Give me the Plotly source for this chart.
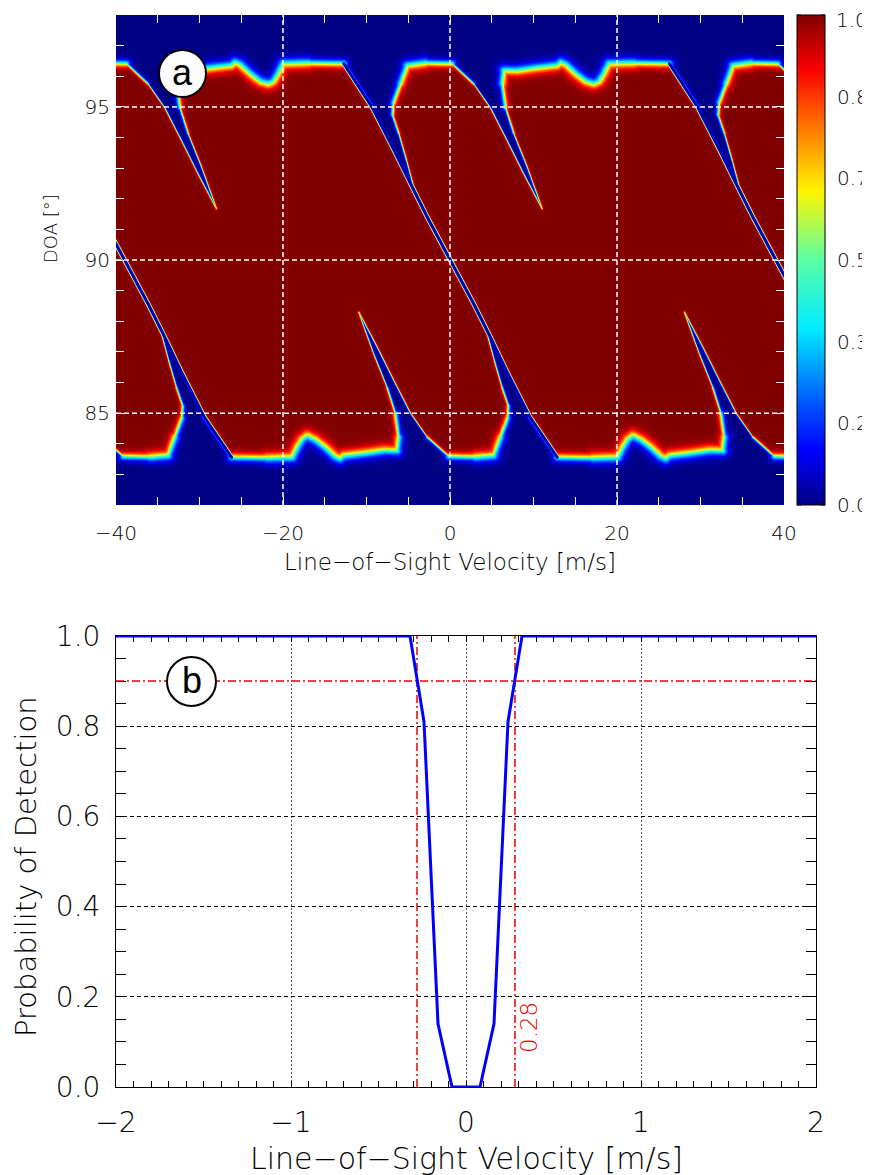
import numpy as np
import plotly.graph_objects as go

# ======================= DATA =======================
# ---- panel (b): probability of detection vs line-of-sight velocity ----
VEL_B = [-2.0, -0.32, -0.24, -0.16, -0.08, 0.0, 0.08, 0.16, 0.24, 0.32, 2.0]
PD_B = [1.0, 1.0, 0.81, 0.14, 0.0, 0.0, 0.0, 0.14, 0.81, 1.0, 1.0]
PD_THRESHOLD = 0.9
VEL_AT_THRESHOLD = 0.28
VEL_RANGE_B = [-2, 2]
PD_RANGE_B = [0, 1]
X_TICKS_B = [-2, -1, 0, 1, 2]
X_TICKTEXT_B = ["\u22122", "\u22121", "0", "1", "2"]
Y_TICKS_B = [0.0, 0.2, 0.4, 0.6, 0.8, 1.0]
Y_TICKTEXT_B = ["0.0", "0.2", "0.4", "0.6", "0.8", "1.0"]

# ---- panel (a): detection map (DOA vs velocity) ----
VEL_RANGE_A = [-40, 40]
DOA_RANGE_A = [82, 98]
X_TICKS_A = [-40, -20, 0, 20, 40]
X_TICKTEXT_A = ["\u221240", "\u221220", "0", "20", "40"]
Y_TICKS_A = [85, 90, 95]
Y_TICKTEXT_A = ["85", "90", "95"]
CB_TICKS = [0, 1 / 6, 2 / 6, 3 / 6, 4 / 6, 5 / 6, 1]
CB_TICKTEXT = ["0.0", "0.2", "0.3", "0.5", "0.7", "0.8", "1.0"]

# the map repeats along velocity; one period of its outline
PERIOD_SHIFTS = [-39.0, 0.0, 39.0]

# upper low-detection region (its lower edge, incl. the notches hanging from it)
UPPER_EDGE_V = [-12.78, -9.38, -6.79, -4.79, -3.60, -4.19, -5.27, -6.19, -6.95, -6.85,
                -6.00, -5.19, -3.00, 0.20, 2.79, 4.79, 6.79, 8.78, 10.98, 9.18,
                7.58, 6.59, 6.19, 6.39, 8.00, 10.00, 12.78, 13.20, 13.80, 15.00,
                16.20, 17.17, 17.80, 18.36, 18.96, 22.00]
UPPER_EDGE_DOA = [96.43, 95.00, 93.62, 92.51, 91.75, 92.18, 93.27, 94.14, 94.75, 95.15,
                  95.77, 96.37, 96.45, 96.43, 95.77, 94.99, 93.92, 92.83, 91.69, 93.05,
                  94.14, 94.99, 95.77, 96.21, 96.20, 96.28, 96.37, 96.47, 96.40, 96.10,
                  95.85, 95.77, 95.85, 96.10, 96.43, 96.45]
UPPER_EDGE_BLUR = [4.0, 1.2, 1.2, 1.2, 1.2, 1.2, 1.3, 1.6, 2.4, 3.5,
                   5.0, 6.5, 7.0, 3.0, 1.2, 1.2, 1.2, 1.2, 1.2, 1.2,
                   1.4, 2.5, 5.0, 6.5, 7.0, 7.0, 7.0, 7.0, 7.0, 7.0,
                   7.0, 7.0, 7.0, 7.0, 7.0, 7.0]

# lower low-detection region (its upper edge, incl. the notches rising from it)
LOWER_EDGE_V = [12.78, 9.48, 6.79, 4.79, 3.60, 4.19, 5.27, 6.19, 6.95, 6.85,
                6.00, 5.19, 3.00, -0.20, -2.79, -4.79, -6.79, -8.78, -10.98, -9.18,
                -7.58, -6.59, -6.19, -6.39, -8.00, -10.00, -12.78, -13.20, -13.80, -15.00,
                -16.20, -17.17, -17.80, -18.36, -18.96, -22.00]
LOWER_EDGE_DOA = [83.57, 84.90, 86.35, 87.49, 88.25, 87.82, 86.73, 85.86, 85.25, 84.85,
                  84.23, 83.63, 83.58, 83.60, 84.23, 85.01, 86.08, 87.17, 88.31, 86.95,
                  85.86, 85.01, 84.23, 83.79, 83.80, 83.72, 83.63, 83.53, 83.60, 83.90,
                  84.15, 84.28, 84.15, 83.90, 83.57, 83.55]
LOWER_EDGE_BLUR = [4.0, 1.2, 1.2, 1.2, 1.2, 1.2, 1.3, 1.6, 2.4, 3.5,
                   5.0, 6.5, 7.0, 3.0, 1.2, 1.2, 1.2, 1.2, 1.2, 1.2,
                   1.4, 2.5, 5.0, 6.5, 7.0, 7.0, 7.0, 7.0, 7.0, 7.0,
                   7.0, 7.0, 7.0, 7.0, 7.0, 7.0]

# thin blind line crossing the map
NOTCH_LINE_V = [-12.78, -9.38, -6.79, -4.79, -2.79, 0.0, 2.79, 4.79, 6.79, 9.48, 12.78]
NOTCH_LINE_DOA = [96.43, 95.00, 93.62, 92.51, 91.42, 90.00, 88.58, 87.49, 86.35, 84.90, 83.57]

# ======================= LAYOUT (pixels in the 870x1175 view) =======================
PAGE_OFF = 8                      # default page margin around the figure div
W, H = 870 - PAGE_OFF, 1175 - PAGE_OFF
A_L, A_R, A_T, A_B = 116, 784, 15, 505
B_L, B_R, B_T, B_B = 116, 816, 636, 1087
CB_L, CB_R = 797, 825
FONT = "DejaVu Sans"
LIGHT = 200


def px(x):
    return (x - PAGE_OFF) / W


def py(y):
    return 1 - (y - PAGE_OFF) / H


# ======================= FIELD FOR PANEL (a) =======================
PXV = (A_R - A_L) / (VEL_RANGE_A[1] - VEL_RANGE_A[0])
PXD = (A_B - A_T) / (DOA_RANGE_A[1] - DOA_RANGE_A[0])
vgrid = np.linspace(VEL_RANGE_A[0], VEL_RANGE_A[1], A_R - A_L + 1)
dgrid = np.linspace(DOA_RANGE_A[0], DOA_RANGE_A[1], A_B - A_T + 1)
GX, GY = np.meshgrid(vgrid * PXV, dgrid * PXD)


def polygon_field(vs, ds, blur):
    xs = np.asarray(vs) * PXV
    ys = np.asarray(ds) * PXD
    bl = np.asarray(blur)
    n = len(xs)
    inside = np.zeros(GX.shape, bool)
    dmin = np.full(GX.shape, np.inf)
    for i in range(n):
        j = (i + 1) % n
        x1, y1, x2, y2 = xs[i], ys[i], xs[j], ys[j]
        if y1 != y2:
            crosses = (y1 > GY) != (y2 > GY)
            xint = x1 + (GY - y1) * (x2 - x1) / (y2 - y1)
            inside ^= crosses & (GX < xint)
        dx, dy = x2 - x1, y2 - y1
        l2 = dx * dx + dy * dy
        if l2 == 0:
            continue
        t = np.clip(((GX - x1) * dx + (GY - y1) * dy) / l2, 0, 1)
        d = np.hypot(GX - x1 - t * dx, GY - y1 - t * dy)
        dmin = np.minimum(dmin, d / (0.5 * (bl[i] + bl[j])))
    sd = np.where(inside, -dmin, dmin)
    return 0.5 * (1 + np.tanh(1.2 * sd))


def line_field(vs, ds, halfw=1.9, soft=0.9):
    xs = np.asarray(vs) * PXV
    ys = np.asarray(ds) * PXD
    dmin = np.full(GX.shape, np.inf)
    for i in range(len(xs) - 1):
        x1, y1, x2, y2 = xs[i], ys[i], xs[i + 1], ys[i + 1]
        dx, dy = x2 - x1, y2 - y1
        l2 = dx * dx + dy * dy
        t = np.clip(((GX - x1) * dx + (GY - y1) * dy) / l2, 0, 1)
        d = np.hypot(GX - x1 - t * dx, GY - y1 - t * dy)
        dmin = np.minimum(dmin, d)
    return 0.5 * (1 + np.tanh(1.2 * (dmin - halfw) / soft))


uv, ud, ub = [], [], []
for s in sorted(PERIOD_SHIFTS):
    uv += [v + s for v in UPPER_EDGE_V]
    ud += list(UPPER_EDGE_DOA)
    ub += list(UPPER_EDGE_BLUR)
first_v, last_v = uv[0], uv[-1]
uv += [last_v, first_v]
ud += [DOA_RANGE_A[1] + 1.5, DOA_RANGE_A[1] + 1.5]
ub += [7.0, 7.0]

lv, ld, lb = [], [], []
for s in sorted(PERIOD_SHIFTS, reverse=True):
    lv += [v + s for v in LOWER_EDGE_V]
    ld += list(LOWER_EDGE_DOA)
    lb += list(LOWER_EDGE_BLUR)
first_v, last_v = lv[0], lv[-1]
lv += [last_v, first_v]
ld += [DOA_RANGE_A[0] - 1.5, DOA_RANGE_A[0] - 1.5]
lb += [7.0, 7.0]

Z = np.minimum(polygon_field(uv, ud, ub), polygon_field(lv, ld, lb))
for s in PERIOD_SHIFTS:
    Z = np.minimum(Z, line_field([v + s for v in NOTCH_LINE_V], NOTCH_LINE_DOA))
Z = np.round(Z, 3).astype(np.float32)

JET = [
    [0.0, "rgb(0,0,131)"],
    [0.11, "rgb(0,0,255)"],
    [0.2, "rgb(0,80,255)"],
    [0.36, "rgb(0,235,255)"],
    [0.5, "rgb(90,255,165)"],
    [0.64, "rgb(255,245,0)"],
    [0.78, "rgb(255,110,0)"],
    [0.89, "rgb(250,0,0)"],
    [1.0, "rgb(128,0,0)"],
]

# colorbar labels: the top one is placed as an annotation so it stays inside the page
cb_text = list(CB_TICKTEXT[:-1]) + [""]

fig = go.Figure()
fig.add_trace(go.Heatmap(
    x=vgrid, y=dgrid, z=Z, zmin=0, zmax=1, colorscale=JET, zsmooth="best",
    xaxis="x", yaxis="y", hoverinfo="skip",
    colorbar=dict(
        x=px(CB_L), xanchor="left", xpad=0,
        y=py(A_B), yanchor="bottom", ypad=0,
        len=(A_B - A_T) / H, lenmode="fraction",
        thickness=CB_R - CB_L, thicknessmode="pixels",
        outlinewidth=1, outlinecolor="black",
        tickvals=CB_TICKS, ticktext=cb_text, ticklabeloverflow="allow",
        ticks="outside", ticklen=8, tickcolor="rgba(0,0,0,0)",
        tickfont=dict(family=FONT, size=20, color="black", weight=LIGHT),
    ),
))

# ---- panel (b) traces ----
RED = "rgb(235,0,0)"
DASHDOT = "8px,3px,2px,3px"
fig.add_trace(go.Scatter(x=VEL_RANGE_B, y=[PD_THRESHOLD, PD_THRESHOLD], mode="lines",
                         line=dict(color=RED, width=1.5, dash=DASHDOT),
                         xaxis="x2", yaxis="y2", hoverinfo="skip"))
for sgn in (-1, 1):
    fig.add_trace(go.Scatter(x=[sgn * VEL_AT_THRESHOLD] * 2, y=PD_RANGE_B, mode="lines",
                             line=dict(color=RED, width=1.5, dash=DASHDOT),
                             xaxis="x2", yaxis="y2", hoverinfo="skip"))
fig.add_trace(go.Scatter(x=VEL_B, y=PD_B, mode="lines",
                         line=dict(color="rgb(0,0,255)", width=3),
                         xaxis="x2", yaxis="y2", cliponaxis=False, hoverinfo="skip"))

# ---- shapes ----
shapes = []
for v in X_TICKS_A[1:-1]:
    shapes.append(dict(type="line", xref="x", yref="y", x0=v, x1=v,
                       y0=DOA_RANGE_A[0], y1=DOA_RANGE_A[1], layer="above",
                       line=dict(color="white", width=1.5, dash="5px,3px")))
for d in Y_TICKS_A:
    shapes.append(dict(type="line", xref="x", yref="y", x0=VEL_RANGE_A[0], x1=VEL_RANGE_A[1],
                       y0=d, y1=d, layer="above",
                       line=dict(color="white", width=1.5, dash="5px,3px")))
# colorbar tick marks on both edges (major + minor)
cb_marks = list(CB_TICKS) + [0.5 * (a + b) for a, b in zip(CB_TICKS[:-1], CB_TICKS[1:])]
for t in cb_marks:
    yy = py(A_B - t * (A_B - A_T))
    shapes.append(dict(type="line", xref="paper", yref="paper", x0=px(CB_L), x1=px(CB_L + 4),
                       y0=yy, y1=yy, line=dict(color="black", width=1), layer="above"))
    shapes.append(dict(type="line", xref="paper", yref="paper", x0=px(CB_R - 4), x1=px(CB_R),
                       y0=yy, y1=yy, line=dict(color="black", width=1), layer="above"))
# panel labels (circles)
for cx, cy, r in [(182.5, 73.5, 23.5), (191.5, 681.5, 24.5)]:
    shapes.append(dict(type="circle", xref="paper", yref="paper",
                       x0=px(cx - r), x1=px(cx + r), y0=py(cy + r), y1=py(cy - r),
                       fillcolor="white", line=dict(color="black", width=2), layer="above"))

annotations = [
    dict(text="a", x=px(182.5), y=py(72), xref="paper", yref="paper", showarrow=False,
         font=dict(family="Liberation Sans", size=36, color="black"), xanchor="center", yanchor="middle"),
    dict(text="b", x=px(191.5), y=py(680), xref="paper", yref="paper", showarrow=False,
         font=dict(family="Liberation Sans", size=36, color="black"), xanchor="center", yanchor="middle"),
    dict(text=CB_TICKTEXT[-1], x=px(CB_R + 9), y=py(20), xref="paper", yref="paper",
         showarrow=False, xanchor="left", yanchor="middle",
         font=dict(family=FONT, size=20, color="black", weight=LIGHT)),
    dict(text="Line\u2212of\u2212Sight Velocity [m/s]", x=px((A_L + A_R) / 2), y=py(562),
         xref="paper", yref="paper", showarrow=False, xanchor="center", yanchor="middle",
         font=dict(family=FONT, size=23, color="black", weight=LIGHT)),
    dict(text="DOA [\u00b0]", x=px(50), y=py(229), xref="paper", yref="paper", showarrow=False,
         textangle=-90, xanchor="center", yanchor="middle",
         font=dict(family=FONT, size=18, color="black", weight=LIGHT)),
    dict(text="Line\u2212of\u2212Sight Velocity [m/s]", x=px((B_L + B_R) / 2), y=py(1158),
         xref="paper", yref="paper", showarrow=False, xanchor="center", yanchor="middle",
         font=dict(family=FONT, size=30, color="black", weight=LIGHT)),
    dict(text="Probability of Detection", x=px(26), y=py(867), xref="paper", yref="paper",
         showarrow=False, textangle=-90, xanchor="center", yanchor="middle",
         font=dict(family=FONT, size=29, color="black", weight=LIGHT)),
    dict(text=f"{VEL_AT_THRESHOLD:.2f}", x=px(529), y=py(1028), xref="paper", yref="paper",
         showarrow=False, textangle=-90, xanchor="center", yanchor="middle",
         font=dict(family=FONT, size=23, color=RED, weight=LIGHT)),
]

common = dict(automargin=False, zeroline=False, showline=True, linewidth=1, mirror="ticks",
              ticks="inside", tickwidth=1)
fig.update_layout(
    width=W, height=H, margin=dict(l=0, r=0, t=0, b=0, autoexpand=False),
    paper_bgcolor="white", plot_bgcolor="white", showlegend=False,
    font=dict(family=FONT, color="black"),
    shapes=shapes, annotations=annotations,
    xaxis=dict(domain=[px(A_L), px(A_R)], range=VEL_RANGE_A, anchor="y",
               tickvals=X_TICKS_A, ticktext=X_TICKTEXT_A, ticklen=8, tickcolor="white",
               minor=dict(dtick=5, tick0=0, ticks="inside", ticklen=8, tickcolor="white",
                          tickwidth=1, showgrid=False),
               linecolor="white", showgrid=False, layer="above traces",
               tickfont=dict(family=FONT, size=20, color="black", weight=LIGHT),
               ticklabelstandoff=10, **common),
    yaxis=dict(domain=[py(A_B), py(A_T)], range=DOA_RANGE_A, anchor="x",
               tickvals=Y_TICKS_A, ticktext=Y_TICKTEXT_A, ticklen=8, tickcolor="white",
               minor=dict(dtick=1, tick0=0, ticks="inside", ticklen=8, tickcolor="white",
                          tickwidth=1, showgrid=False),
               linecolor="white", showgrid=False, layer="above traces",
               tickfont=dict(family=FONT, size=20, color="black", weight=LIGHT),
               ticklabelstandoff=1, **common),
    xaxis2=dict(domain=[px(B_L), px(B_R)], range=VEL_RANGE_B, anchor="y2",
                tickvals=X_TICKS_B, ticktext=X_TICKTEXT_B, ticklen=6, tickcolor="black",
                minor=dict(dtick=0.1, tick0=0, ticks="inside", ticklen=6, tickcolor="black",
                           tickwidth=1, showgrid=False),
                linecolor="black",
                showgrid=True, gridcolor="#555555", gridwidth=1, griddash="2px,2px",
                layer="below traces",
                tickfont=dict(family=FONT, size=28, color="black", weight=LIGHT),
                ticklabelstandoff=10, **common),
    yaxis2=dict(domain=[py(B_B), py(B_T)], range=PD_RANGE_B, anchor="x2",
                tickvals=Y_TICKS_B, ticktext=Y_TICKTEXT_B, ticklen=10, tickcolor="black",
                minor=dict(dtick=0.05, tick0=0, ticks="inside", ticklen=10, tickcolor="black",
                           tickwidth=1, showgrid=False),
                linecolor="black",
                showgrid=True, gridcolor="black", gridwidth=1, griddash="4px,3px",
                layer="below traces",
                tickfont=dict(family=FONT, size=28, color="black", weight=LIGHT),
                ticklabelstandoff=9, **common),
)

fig.write_html("out.html")
